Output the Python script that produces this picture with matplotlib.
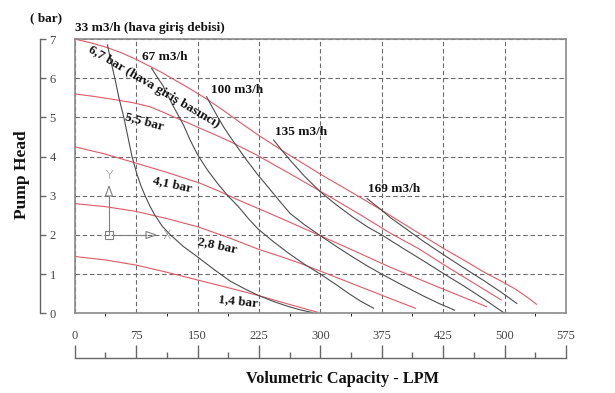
import matplotlib
matplotlib.use("Agg")
import matplotlib.pyplot as plt
from matplotlib.lines import Line2D
from matplotlib.patches import Polygon, Rectangle

plt.rcParams['font.family'] = ['Liberation Serif', 'DejaVu Serif']

# ---------------- data (x in axis position units, y in bar) ----------------
x_tick_pos = [0, 75, 150, 225, 300, 375, 450, 525, 600]
x_tick_labels = ['0', '75', '150', '225', '300', '375', '425', '500', '575']
y_ticks = [0, 1, 2, 3, 4, 5, 6, 7]

# constant air-pressure curves (red)
p67_x = [0, 20, 40, 58, 75, 92, 106, 120, 140, 161, 180, 200, 224, 259, 280, 300, 338, 375, 412, 450, 475, 500, 520, 538, 552, 564]
p67_y = [7.0, 6.9, 6.78, 6.64, 6.48, 6.3, 6.15, 5.98, 5.74, 5.47, 5.2, 4.9, 4.55, 4.08, 3.81, 3.55, 3.09, 2.63, 2.15, 1.66, 1.36, 1.05, 0.83, 0.62, 0.42, 0.23]
p55_x = [0, 25, 50, 72, 92, 106, 120, 135, 150, 170, 190, 207, 224, 268, 312, 350, 385, 420, 450, 485, 521]
p55_y = [5.6, 5.53, 5.45, 5.37, 5.27, 5.15, 5.02, 4.89, 4.75, 4.57, 4.38, 4.2, 4.02, 3.5, 2.97, 2.5, 2.05, 1.65, 1.25, 0.8, 0.34]
p41_x = [0, 36, 72, 112, 153, 177, 200, 238, 275, 330, 385, 445, 503]
p41_y = [4.25, 4.07, 3.85, 3.6, 3.32, 3.11, 2.89, 2.55, 2.21, 1.7, 1.18, 0.66, 0.17]
p28_x = [0, 38, 75, 112, 150, 188, 225, 250, 275, 330, 385, 416]
p28_y = [2.8, 2.72, 2.6, 2.42, 2.21, 1.93, 1.63, 1.46, 1.28, 0.83, 0.38, 0.13]
p14_x = [0, 38, 75, 112, 150, 188, 225, 260, 296]
p14_y = [1.45, 1.36, 1.23, 1.05, 0.85, 0.65, 0.45, 0.24, 0.03]

# constant air-consumption curves (gray)
q33_x = [40, 44, 49, 54, 60, 65, 70, 76, 81, 86, 92, 98, 107, 117, 133, 150, 170, 190, 208, 225, 243, 260, 275, 290]
q33_y = [6.85, 6.45, 6.0, 5.5, 5.0, 4.5, 4.0, 3.55, 3.25, 3.0, 2.73, 2.5, 2.22, 2.0, 1.7, 1.44, 1.12, 0.82, 0.62, 0.45, 0.3, 0.18, 0.09, 0.02]
q67_x = [94, 101, 108, 120, 133, 141, 150, 162, 175, 187, 200, 212, 224, 242, 260, 280, 300, 318, 335, 350, 365]
q67_y = [6.25, 6.02, 5.8, 5.3, 4.8, 4.42, 4.05, 3.66, 3.3, 3.0, 2.72, 2.42, 2.15, 1.84, 1.55, 1.26, 1.0, 0.75, 0.5, 0.3, 0.13]
q100_x = [161, 168, 175, 182, 190, 200, 210, 223, 237, 250, 263, 280, 300, 320, 340, 358, 375, 400, 425, 445, 464]
q100_y = [5.53, 5.26, 5.0, 4.75, 4.5, 4.2, 3.91, 3.55, 3.2, 2.87, 2.55, 2.27, 1.98, 1.7, 1.43, 1.2, 1.0, 0.72, 0.45, 0.25, 0.08]
q135_x = [243, 253, 263, 281, 300, 320, 340, 358, 375, 400, 425, 450, 475, 500, 525]
q135_y = [4.42, 4.16, 3.91, 3.49, 3.1, 2.76, 2.45, 2.2, 2.0, 1.67, 1.35, 1.02, 0.7, 0.36, 0.0]
q169_x = [357, 366, 375, 385, 405, 425, 450, 475, 500, 520, 540]
q169_y = [2.93, 2.78, 2.63, 2.45, 2.15, 1.85, 1.5, 1.16, 0.83, 0.55, 0.25]

red_series = [(p67_x, p67_y), (p55_x, p55_y), (p41_x, p41_y), (p28_x, p28_y), (p14_x, p14_y)]
gray_series = [(q33_x, q33_y), (q67_x, q67_y), (q100_x, q100_y), (q135_x, q135_y), (q169_x, q169_y)]

RED = '#e25866'
GRAY = '#4d4d4d'
FRAME = '#8a8a8a'
TXT = '#111111'

W, H = 615, 393
fig = plt.figure(figsize=(W / 100, H / 100), dpi=100)

L, R, T, B = 74.7, 566, 39, 313.3
ax = fig.add_axes([L / W, 1 - B / H, (R - L) / W, (B - T) / H])
ax.set_xlim(0, 600)
ax.set_ylim(0, 7)

for xs, ys in red_series:
    ax.plot(xs, ys, color=RED, lw=0.8)
for xs, ys in gray_series:
    ax.plot(xs, ys, color=GRAY, lw=0.8)

ax.set_xticks(x_tick_pos)
ax.set_xticklabels(x_tick_labels)
ax.set_yticks(y_ticks)
ax.set_yticklabels([str(v) for v in y_ticks])
ax.tick_params(axis='x', length=0, pad=12, labelsize=9, labelcolor='#444444')
ax.tick_params(axis='y', length=0, pad=13.5, labelsize=9, labelcolor='#444444')
ax.grid(True, color='#6a6a6a', lw=0.8, ls=(0, (4, 2.5)))
for s in ax.spines.values():
    s.set_color(FRAME)
    s.set_linewidth(1.2)

# separate left axis line
axl = fig.add_axes([40 / W, 1 - B / H, 0.0001, (B - T) / H], sharey=ax)
for k in ['top', 'right', 'bottom']:
    axl.spines[k].set_visible(False)
axl.spines['left'].set_color('#666666')
axl.spines['left'].set_linewidth(1.0)
axl.tick_params(axis='y', direction='in', length=4, color='#666666', labelleft=False, width=1.0)
axl.tick_params(axis='x', bottom=False, labelbottom=False)
axl.patch.set_visible(False)

# separate bottom axis line
axb = fig.add_axes([L / W, 1 - 358 / H, (R - L) / W, 0.0001], sharex=ax)
for k in ['top', 'right', 'left']:
    axb.spines[k].set_visible(False)
axb.spines['bottom'].set_color('#666666')
axb.spines['bottom'].set_linewidth(1.0)
axb.set_xticks([v + 37.5 for v in x_tick_pos[:-1]], minor=True)
axb.tick_params(axis='x', which='major', direction='in', length=9.5, color='#666666', width=1.0, labelbottom=False)
axb.tick_params(axis='x', which='minor', direction='in', length=4.5, color='#666666', width=1.0)
axb.tick_params(axis='y', left=False, labelleft=False)
axb.patch.set_visible(False)

# curve labels
bold = dict(fontweight='bold', color=TXT, fontsize=9.5)
ax.text(0, 7.28, '33 m3/h (hava giriş debisi)', ha='left', va='center', clip_on=False, **bold)
ax.text(82, 6.53, '67 m3/h', ha='left', va='center', **bold)
ax.text(166, 5.70, '100 m3/h', ha='left', va='center', **bold)
ax.text(245, 4.62, '135 m3/h', ha='left', va='center', **bold)
ax.text(358, 3.17, '169 m3/h', ha='left', va='center', **bold)
ax.text(97, 5.77, '6,7 bar (hava giriş basıncı)', ha='center', va='center', rotation=-30.5,
        rotation_mode='anchor', **bold)
ax.text(85, 4.90, '5,5 bar', ha='center', va='center', rotation=-15, rotation_mode='anchor', **bold)
ax.text(119, 3.30, '4,1 bar', ha='center', va='center', rotation=-12, rotation_mode='anchor', **bold)
ax.text(174, 1.74, '2,8 bar', ha='center', va='center', rotation=-12, rotation_mode='anchor', **bold)
ax.text(200, 0.30, '1,4 bar', ha='center', va='center', rotation=-6, rotation_mode='anchor', **bold)

# axis titles
fig.text(22 / W, 1 - 175 / H, 'Pump Head', rotation=90, ha='center', va='center',
         fontweight='bold', fontsize=12.5, color=TXT)
fig.text(46 / W, 1 - 18 / H, '( bar)', ha='center', va='center', fontweight='bold', fontsize=9.5, color=TXT)
fig.text(343 / W, 1 - 379 / H, 'Volumetric Capacity - LPM', ha='center', va='center',
         fontweight='bold', fontsize=11.7, color=TXT)

# small UCS icon (decoration)
def P(px, py):
    return (px / W, 1 - py / H)

ic = '#808080'
fig.add_artist(Rectangle(P(105, 239), 8 / W, 8 / H, fill=False, ec=ic, lw=0.8))
fig.add_artist(Line2D([P(109, 235)[0], P(109, 196)[0]], [P(109, 235)[1], P(109, 196)[1]], color=ic, lw=0.8))
fig.add_artist(Polygon([P(105.5, 196), P(112.5, 196), P(109, 186)], closed=True, fill=False, ec=ic, lw=0.8))
fig.add_artist(Line2D([P(113, 235)[0], P(146, 235)[0]], [P(113, 235)[1], P(146, 235)[1]], color=ic, lw=0.8))
fig.add_artist(Polygon([P(146, 231.5), P(146, 238.5), P(156, 235)], closed=True, fill=False, ec=ic, lw=0.8))
fig.text(110 / W, 1 - 175 / H, 'Y', ha='center', va='center', fontsize=9, color=ic,
         family=['DejaVu Sans'], fontweight='light')
fig.text(167 / W, 1 - 235 / H, 'X', ha='center', va='center', fontsize=9, color=ic,
         family=['DejaVu Sans'], fontweight='light')

fig.savefig('out.png', dpi=100)
